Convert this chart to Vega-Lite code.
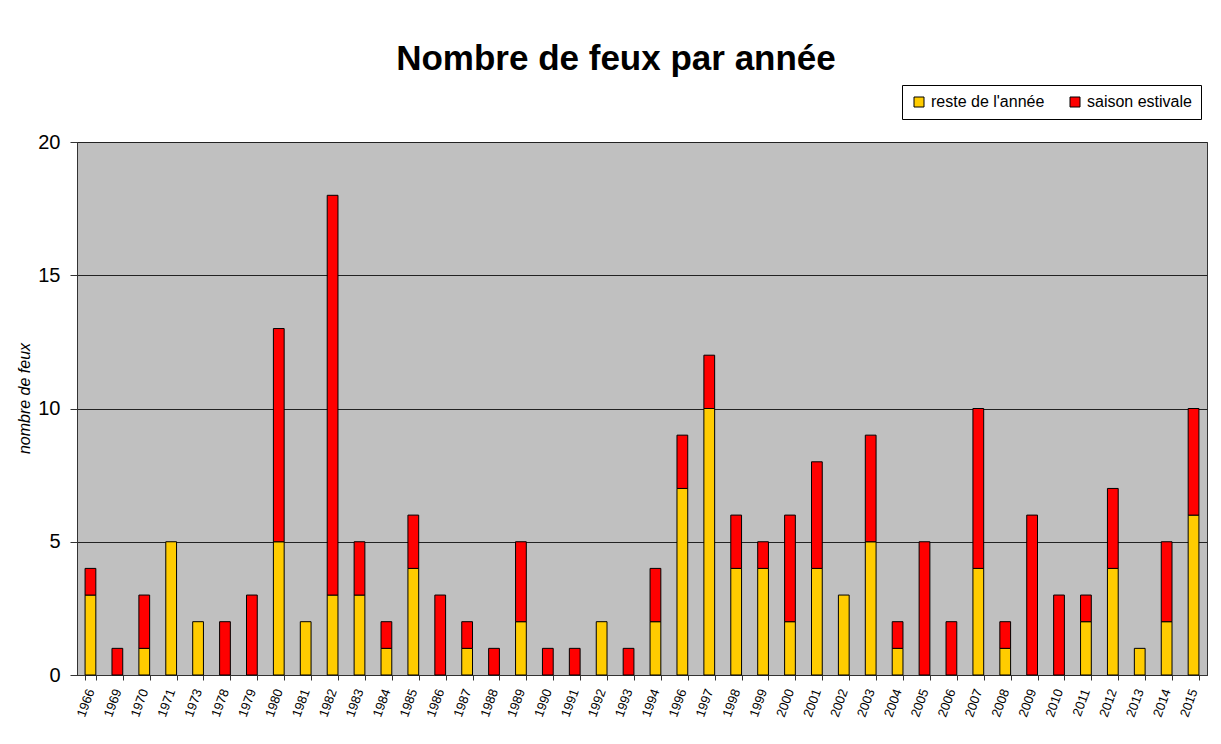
{
  "$schema": "https://vega.github.io/schema/vega-lite/v6.json",
  "autosize": {"type": "none"},
  "width": 1130,
  "height": 533,
  "padding": {"left": 77, "top": 142, "right": 14, "bottom": 69},
  "background": "white",
  "title": {
    "text": "Nombre de feux par année",
    "font": "Liberation Sans",
    "fontSize": 35,
    "fontWeight": "bold",
    "color": "black",
    "anchor": "middle",
    "dx": -26,
    "offset": 8
  },
  "data": {
    "values": [
      {"annee": "1966", "periode": "reste de l'année", "feux": 3},
      {"annee": "1966", "periode": "saison estivale", "feux": 1},
      {"annee": "1969", "periode": "saison estivale", "feux": 1},
      {"annee": "1970", "periode": "reste de l'année", "feux": 1},
      {"annee": "1970", "periode": "saison estivale", "feux": 2},
      {"annee": "1971", "periode": "reste de l'année", "feux": 5},
      {"annee": "1973", "periode": "reste de l'année", "feux": 2},
      {"annee": "1978", "periode": "saison estivale", "feux": 2},
      {"annee": "1979", "periode": "saison estivale", "feux": 3},
      {"annee": "1980", "periode": "reste de l'année", "feux": 5},
      {"annee": "1980", "periode": "saison estivale", "feux": 8},
      {"annee": "1981", "periode": "reste de l'année", "feux": 2},
      {"annee": "1982", "periode": "reste de l'année", "feux": 3},
      {"annee": "1982", "periode": "saison estivale", "feux": 15},
      {"annee": "1983", "periode": "reste de l'année", "feux": 3},
      {"annee": "1983", "periode": "saison estivale", "feux": 2},
      {"annee": "1984", "periode": "reste de l'année", "feux": 1},
      {"annee": "1984", "periode": "saison estivale", "feux": 1},
      {"annee": "1985", "periode": "reste de l'année", "feux": 4},
      {"annee": "1985", "periode": "saison estivale", "feux": 2},
      {"annee": "1986", "periode": "saison estivale", "feux": 3},
      {"annee": "1987", "periode": "reste de l'année", "feux": 1},
      {"annee": "1987", "periode": "saison estivale", "feux": 1},
      {"annee": "1988", "periode": "saison estivale", "feux": 1},
      {"annee": "1989", "periode": "reste de l'année", "feux": 2},
      {"annee": "1989", "periode": "saison estivale", "feux": 3},
      {"annee": "1990", "periode": "saison estivale", "feux": 1},
      {"annee": "1991", "periode": "saison estivale", "feux": 1},
      {"annee": "1992", "periode": "reste de l'année", "feux": 2},
      {"annee": "1993", "periode": "saison estivale", "feux": 1},
      {"annee": "1994", "periode": "reste de l'année", "feux": 2},
      {"annee": "1994", "periode": "saison estivale", "feux": 2},
      {"annee": "1996", "periode": "reste de l'année", "feux": 7},
      {"annee": "1996", "periode": "saison estivale", "feux": 2},
      {"annee": "1997", "periode": "reste de l'année", "feux": 10},
      {"annee": "1997", "periode": "saison estivale", "feux": 2},
      {"annee": "1998", "periode": "reste de l'année", "feux": 4},
      {"annee": "1998", "periode": "saison estivale", "feux": 2},
      {"annee": "1999", "periode": "reste de l'année", "feux": 4},
      {"annee": "1999", "periode": "saison estivale", "feux": 1},
      {"annee": "2000", "periode": "reste de l'année", "feux": 2},
      {"annee": "2000", "periode": "saison estivale", "feux": 4},
      {"annee": "2001", "periode": "reste de l'année", "feux": 4},
      {"annee": "2001", "periode": "saison estivale", "feux": 4},
      {"annee": "2002", "periode": "reste de l'année", "feux": 3},
      {"annee": "2003", "periode": "reste de l'année", "feux": 5},
      {"annee": "2003", "periode": "saison estivale", "feux": 4},
      {"annee": "2004", "periode": "reste de l'année", "feux": 1},
      {"annee": "2004", "periode": "saison estivale", "feux": 1},
      {"annee": "2005", "periode": "saison estivale", "feux": 5},
      {"annee": "2006", "periode": "saison estivale", "feux": 2},
      {"annee": "2007", "periode": "reste de l'année", "feux": 4},
      {"annee": "2007", "periode": "saison estivale", "feux": 6},
      {"annee": "2008", "periode": "reste de l'année", "feux": 1},
      {"annee": "2008", "periode": "saison estivale", "feux": 1},
      {"annee": "2009", "periode": "saison estivale", "feux": 6},
      {"annee": "2010", "periode": "saison estivale", "feux": 3},
      {"annee": "2011", "periode": "reste de l'année", "feux": 2},
      {"annee": "2011", "periode": "saison estivale", "feux": 1},
      {"annee": "2012", "periode": "reste de l'année", "feux": 4},
      {"annee": "2012", "periode": "saison estivale", "feux": 3},
      {"annee": "2013", "periode": "reste de l'année", "feux": 1},
      {"annee": "2014", "periode": "reste de l'année", "feux": 2},
      {"annee": "2014", "periode": "saison estivale", "feux": 3},
      {"annee": "2015", "periode": "reste de l'année", "feux": 6},
      {"annee": "2015", "periode": "saison estivale", "feux": 4}
    ]
  },
  "mark": {"type": "bar", "stroke": "black", "strokeWidth": 1},
  "encoding": {
    "x": {
      "field": "annee",
      "type": "ordinal",
      "scale": {"paddingInner": 0.6, "paddingOuter": 0.3},
      "axis": {
        "title": null,
        "labelAngle": -70,
        "labelFont": "Liberation Sans",
        "labelFontSize": 13,
        "labelColor": "black",
        "labelPadding": 9,
        "tickBand": "extent",
        "tickSize": 5,
        "tickColor": "#333333",
        "domainColor": "#333333",
        "grid": false
      }
    },
    "y": {
      "field": "feux",
      "type": "quantitative",
      "stack": "zero",
      "scale": {"domain": [0, 20]},
      "axis": {
        "title": "nombre de feux",
        "titleFont": "Liberation Sans",
        "titleFontSize": 16,
        "titleFontStyle": "italic",
        "titleFontWeight": "normal",
        "titleColor": "black",
        "titlePadding": 5,
        "titleY": 256,
        "values": [0, 5, 10, 15, 20],
        "labelFont": "Liberation Sans",
        "labelFontSize": 20,
        "labelColor": "black",
        "labelPadding": 10,
        "tickSize": 7,
        "tickColor": "#333333",
        "domainColor": "#333333",
        "grid": true,
        "gridColor": "#222222",
        "gridWidth": 1
      }
    },
    "color": {
      "field": "periode",
      "type": "nominal",
      "scale": {
        "domain": ["reste de l'année", "saison estivale"],
        "range": ["#FFCC00", "#FF0000"]
      },
      "legend": {
        "title": null,
        "orient": "none",
        "legendX": 825,
        "legendY": -57,
        "direction": "horizontal",
        "strokeColor": "black",
        "fillColor": "white",
        "padding": 9,
        "symbolType": "square",
        "symbolSize": 100,
        "symbolStrokeColor": "black",
        "symbolStrokeWidth": 1,
        "symbolOpacity": 1,
        "labelFont": "Liberation Sans",
        "labelFontSize": 16,
        "labelColor": "black",
        "columnPadding": 22
      }
    },
    "order": {"field": "periode", "sort": "ascending"}
  },
  "config": {
    "view": {"fill": "#C0C0C0", "stroke": "#333333", "strokeWidth": 1}
  }
}
